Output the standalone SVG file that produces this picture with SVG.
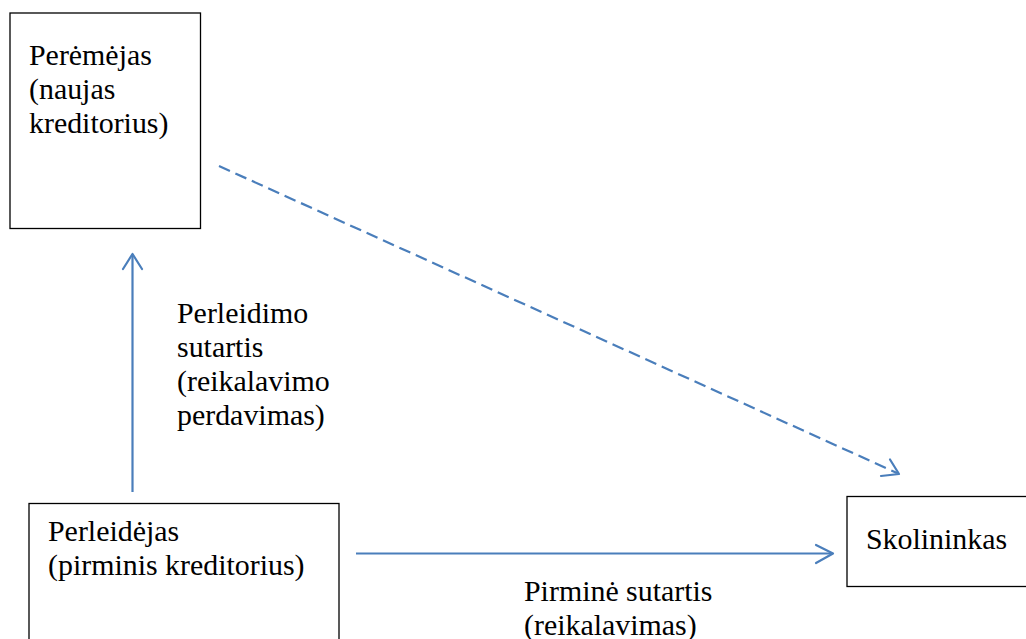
<svg xmlns="http://www.w3.org/2000/svg" width="1026" height="639" viewBox="0 0 1026 639">
<style>
.box{fill:#fff;stroke:#000;stroke-width:1.3}
.t{font-family:"Liberation Serif","Times New Roman",Tinos,"DejaVu Serif",serif;font-size:29.9px;fill:#000}
.c{fill:none;stroke:#4A7EBB;stroke-width:2.2}
.h{fill:none;stroke:#4A7EBB;stroke-width:2.2;stroke-linecap:round;stroke-linejoin:round}
</style>
<rect width="1026" height="639" fill="#fff"/>
<g id="connectors">
<line class="c" x1="132.5" y1="492" x2="132.5" y2="254"/>
<polyline class="h" points="123,269 132.5,254 142,269"/>
<line class="c" x1="356" y1="553.5" x2="832" y2="553.5"/>
<polyline class="h" points="816,545 833,553.5 816,563"/>
<line class="c" x1="219" y1="166" x2="897" y2="473" stroke-dasharray="12 6"/>
<polyline class="h" points="890,459.5 899,474 881,476"/>
</g>
<g id="node-peremejas">
<rect class="box" x="10" y="13" width="190.5" height="215.5"/>
<text class="t" x="29" y="65">Perėmėjas</text>
<text class="t" x="29" y="99">(naujas</text>
<text class="t" x="29" y="133">kreditorius)</text>
</g>
<g id="node-perleidejas">
<rect class="box" x="29" y="503.5" width="310" height="150"/>
<text class="t" x="48" y="541">Perleidėjas</text>
<text class="t" x="48" y="575">(pirminis kreditorius)</text>
</g>
<g id="node-skolininkas">
<rect class="box" x="847" y="496.5" width="200" height="90"/>
<text class="t" x="866" y="549">Skolininkas</text>
</g>
<g id="label-perleidimo">
<text class="t" x="177" y="323">Perleidimo</text>
<text class="t" x="177" y="357">sutartis</text>
<text class="t" x="177" y="391">(reikalavimo</text>
<text class="t" x="177" y="425">perdavimas)</text>
</g>
<g id="label-pirmine">
<text class="t" x="524" y="601">Pirminė sutartis</text>
<text class="t" x="524" y="635">(reikalavimas)</text>
</g>
</svg>
